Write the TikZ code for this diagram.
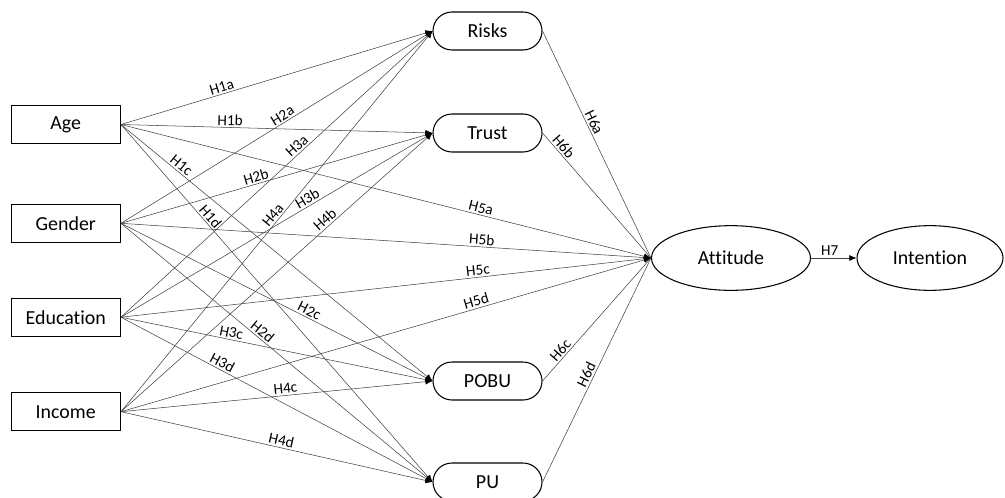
\documentclass[tikz,border=0pt]{standalone}
\usepackage{fontspec}
\setmainfont{Carlito}[Ligatures=NoCommon]
\usetikzlibrary{shapes.geometric,shapes.misc,arrows.meta}

\begin{document}
\begin{tikzpicture}[x=0.03cm, y=-0.03cm,
    every node/.style={font=\fontsize{17}{20}\selectfont},
    factor/.style={draw, line width=0.9pt, rectangle, minimum width=3.28cm, minimum height=1.14cm, inner sep=0pt},
    construct/.style={draw, line width=0.9pt, rounded rectangle, minimum width=3.27cm, minimum height=1.14cm, inner sep=0pt},
    outcome/.style={draw, line width=0.9pt, ellipse, minimum height=1.94cm, inner sep=0pt},
    link/.style={draw=black!75, line width=0.45pt, -{Latex[black, length=6pt, width=5pt]}},
    plain/.style={draw=black!75, line width=0.45pt},
    hyp/.style={font=\fontsize{13}{15}\selectfont, sloped, above, inner sep=1.5pt}]

    \useasboundingbox (0,0) rectangle (1005,497);

    % --- Demographic factors ---
    \node[factor] (age) at (65.75,124.5) {Age};
    \node[factor] (gender) at (65.75,223.3) {Gender};
    \node[factor] (edu) at (65.75,317.2) {Education};
    \node[factor] (income) at (65.75,411.7) {Income};

    % --- Perceptions ---
    \node[construct] (risks) at (487.5,31) {Risks};
    \node[construct] (trust) at (487.5,133) {Trust};
    \node[construct] (pobu) at (487.5,381) {POBU};
    \node[construct] (pu) at (487.5,482) {PU};

    % --- Outcomes ---
    \node[outcome, minimum width=4.77cm] (att) at (731,258) {Attitude};
    \node[outcome, minimum width=4.38cm] (int) at (930,258) {Intention};

    % Age
    \draw[link] (age.east) -- node[hyp, pos=0.33] {H1a} (risks.west);
    \draw[link] (age.east) -- node[hyp, pos=0.35] {H1b} (trust.west);
    \draw[link] (age.east) -- node[hyp, pos=0.18] {H1c} (pobu.west);
    \draw[link] (age.east) -- node[hyp, pos=0.27] {H1d} (pu.west);
    \draw[link] (age.east) -- node[hyp, pos=0.676] {H5a} (att.west);

    % Gender
    \draw[link] (gender.east) -- node[hyp, pos=0.53] {H2a} (risks.west);
    \draw[link] (gender.east) -- node[hyp, pos=0.44] {H2b} (trust.west);
    \draw[link] (gender.east) -- node[hyp, pos=0.595] {H2c} (pobu.west);
    \draw[link] (gender.east) -- node[hyp, pos=0.44] {H2d} (pu.west);
    \draw[link] (gender.east) -- node[hyp, pos=0.68] {H5b} (att.west);

    % Education
    \draw[link] (edu.east) -- node[hyp, pos=0.58] {H3a} (risks.west);
    \draw[link] (edu.east) -- node[hyp, pos=0.61] {H3b} (trust.west);
    \draw[link] (edu.east) -- node[hyp, pos=0.35] {H3c} (pobu.west);
    \draw[link] (edu.east) -- node[hyp, pos=0.315] {H3d} (pu.west);
    \draw[link] (edu.east) -- node[hyp, pos=0.675] {H5c} (att.west);

    % Income
    \draw[link] (income.east) -- node[hyp, pos=0.505] {H4a} (risks.west);
    \draw[link] (income.east) -- node[hyp, pos=0.67] {H4b} (trust.west);
    \draw[link] (income.east) -- node[hyp, pos=0.53] {H4c} (pobu.west);
    \draw[link] (income.east) -- node[hyp, pos=0.51] {H4d} (pu.west);
    \draw[link] (income.east) -- node[hyp, pos=0.674] {H5d} (att.west);

    % Perceptions -> Attitude
    \draw[plain] (risks.east) -- node[hyp, pos=0.416] {H6a} (att.west);
    \draw[plain] (trust.east) -- node[hyp, pos=0.146] {H6b} (att.west);
    \draw[plain] (pobu.east) -- node[hyp, pos=0.214] {H6c} (att.west);
    \draw[plain] (pu.east) -- node[hyp, pos=0.464] {H6d} (att.west);

    % Attitude -> Intention
    \draw[link] (att.east) -- node[hyp, pos=0.41] {H7} (int.west);

\end{tikzpicture}
\end{document}
